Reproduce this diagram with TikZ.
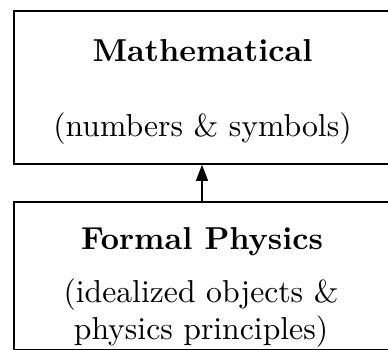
\documentclass[tikz,border=0pt]{standalone}
\usetikzlibrary{arrows.meta}

\begin{document}
\begin{tikzpicture}[x=1pt,y=-1pt,
  layer/.style={draw, line width=1.8pt, minimum width=380pt, anchor=north west, inner sep=0pt},
  title/.style={font=\fontsize{10}{11.7}\selectfont\bfseries, scale=3.17, anchor=base, inner sep=0pt},
  note/.style={font=\fontsize{10}{11.7}\selectfont, scale=3.17, align=center, anchor=base, inner sep=0pt}]
  \clip (0,0) rectangle (388,350);
  % the two levels
  \node[layer, minimum height=153pt] (math) at (13,10) {};
  \node[layer, minimum height=148pt] (phys) at (13,201) {};
  \node[title] (mathT) at (202.5,62) {Mathematical};
  \node[note] (mathN) at (202.5,137) {(numbers \& symbols)};
  \node[title] (physT) at (202,249) {Formal Physics};
  \node[note, anchor=north] (physN) at (201,278) {(idealized objects \&\\physics principles)};
  % link between them
  \coordinate (ax) at (202,0);
  \draw[line width=1.4pt, -{Triangle[length=16pt,width=12pt]}] (phys.north -| ax) -- (math.south -| ax);
\end{tikzpicture}
\end{document}
